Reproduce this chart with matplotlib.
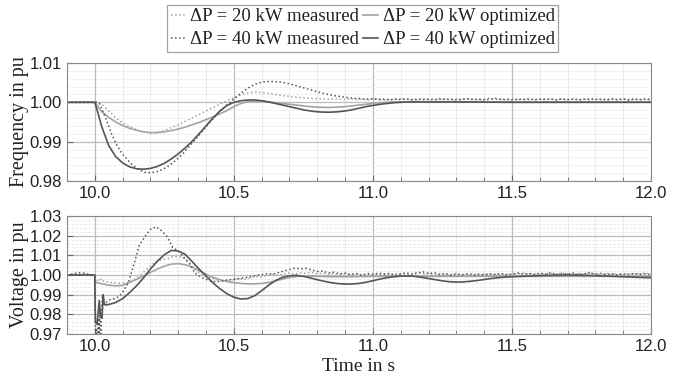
import numpy as np
import matplotlib
matplotlib.use("Agg")
import matplotlib.pyplot as plt
from matplotlib.ticker import MultipleLocator, FormatStrFormatter

# ---------------- data ----------------
# optimized frequency curves: smooth grid
t_fo = [9.90, 10.00, 10.01] + list(np.round(np.arange(10.025, 11.2001, 0.025), 3)) + [11.3, 11.5, 11.75, 12.0]
f40_opt = [1.0000, 1.0000, 0.9976,
           0.9938, 0.9890, 0.9862, 0.9846, 0.9836, 0.9831, 0.9830, 0.9832,
           0.9837, 0.9845, 0.9856, 0.9869, 0.9884, 0.9901, 0.9920, 0.9940, 0.9960, 0.9978,
           0.9992, 1.0000, 1.0004, 1.0006, 1.0006, 1.0004, 1.0001, 0.9997, 0.9993, 0.9989,
           0.9985, 0.9981, 0.9978, 0.9976, 0.9975, 0.9975, 0.9976, 0.9978, 0.9981, 0.9985,
           0.9989, 0.9992, 0.9995, 0.9997, 0.9999, 1.0000, 1.0001, 1.0001, 1.0001, 1.0001,
           1.0001, 1.0000, 1.0000, 1.0000]
f20_opt = [1.0000, 1.0000, 0.9990,
           0.9976, 0.9962, 0.9950, 0.9941, 0.9934, 0.9929, 0.9925, 0.9923,
           0.9923, 0.9925, 0.9928, 0.9932, 0.9937, 0.9943, 0.9949, 0.9956, 0.9963, 0.9971,
           0.9979, 0.9989, 0.9997, 1.0002, 1.0003, 1.0003, 1.0001, 0.9999, 0.9997, 0.9995,
           0.9993, 0.9991, 0.9989, 0.9988, 0.9987, 0.9987, 0.9988, 0.9989, 0.9991, 0.9993,
           0.9995, 0.9997, 0.9999, 1.0000, 1.0001, 1.0001, 1.0001, 1.0001, 1.0001, 1.0001,
           1.0001, 1.0001, 1.0001, 1.0001]

# measured curves: common tail grid 10.10 ... 12.00 every 0.02 s
t_tail = list(np.round(np.arange(10.10, 12.0001, 0.02), 3))
t_fm = [9.90, 9.95, 10.00, 10.005, 10.01, 10.015, 10.02, 10.03, 10.04, 10.05, 10.06, 10.08] + t_tail
f40_meas = [1.0000, 1.0001, 1.0000, 1.0000, 1.0000, 0.9998, 0.9993, 0.9975, 0.9958, 0.9940, 0.9920, 0.9890,
            0.9868, 0.9852, 0.9838, 0.9828, 0.9822, 0.9821, 0.9823, 0.9828, 0.9836, 0.9846,
            0.9858, 0.9872, 0.9888, 0.9904, 0.9921, 0.9938, 0.9954, 0.9970, 0.9984, 0.9996,
            1.0008, 1.0020, 1.0031, 1.0040, 1.0047, 1.0051, 1.0053, 1.0053, 1.0052, 1.0050,
            1.0047, 1.0043, 1.0039, 1.0035, 1.0031, 1.0027, 1.0023, 1.0020, 1.0017, 1.0015,
            1.0013, 1.0011, 1.0010, 1.0009, 1.0008, 1.0009, 1.0007, 1.0008, 1.0006, 1.0008,
            1.0007, 1.0009, 1.0006, 1.0008, 1.0007, 1.0008, 1.0006, 1.0009, 1.0007, 1.0008,
            1.0006, 1.0008, 1.0009, 1.0007, 1.0008, 1.0006, 1.0008, 1.0010, 1.0007, 1.0008,
            1.0006, 1.0008, 1.0007, 1.0009, 1.0006, 1.0008, 1.0007, 1.0008, 1.0006, 1.0009,
            1.0007, 1.0008, 1.0006, 1.0008, 1.0009, 1.0007, 1.0008, 1.0006, 1.0008, 1.0007,
            1.0009, 1.0006, 1.0008, 1.0007, 1.0008, 1.0007]
f20_meas = [1.0000, 1.0000, 1.0000, 1.0000, 1.0001, 1.0000, 0.9998, 0.9992, 0.9985, 0.9978, 0.9971, 0.9958,
            0.9948, 0.9940, 0.9934, 0.9928, 0.9924, 0.9922, 0.9923, 0.9926, 0.9931, 0.9937,
            0.9943, 0.9950, 0.9957, 0.9964, 0.9971, 0.9978, 0.9985, 0.9992, 0.9999, 1.0006,
            1.0012, 1.0018, 1.0022, 1.0025, 1.0026, 1.0025, 1.0023, 1.0021, 1.0019, 1.0017,
            1.0015, 1.0013, 1.0012, 1.0011, 1.0010, 1.0009, 1.0009, 1.0008, 1.0009, 1.0008,
            1.0007, 1.0009, 1.0007, 1.0008, 1.0006, 1.0009, 1.0008, 1.0006, 1.0008, 1.0007,
            1.0009, 1.0007, 1.0008, 1.0006, 1.0009, 1.0007, 1.0008, 1.0007, 1.0009, 1.0006,
            1.0008, 1.0007, 1.0009, 1.0008, 1.0006, 1.0008, 1.0010, 1.0007, 1.0008, 1.0006,
            1.0009, 1.0007, 1.0008, 1.0006, 1.0009, 1.0007, 1.0008, 1.0009, 1.0007, 1.0008,
            1.0006, 1.0009, 1.0007, 1.0008, 1.0006, 1.0009, 1.0007, 1.0008, 1.0009, 1.0006,
            1.0008, 1.0007, 1.0009, 1.0006, 1.0008, 1.0007]

# optimized voltage curves
t_vo = ([9.90, 10.000, 10.002, 10.008, 10.016, 10.020, 10.026, 10.030, 10.034, 10.040]
        + list(np.round(np.arange(10.05, 11.5001, 0.025), 3))
        + [11.55, 11.60, 11.65, 11.70, 11.75, 11.80, 11.85, 11.90, 11.95, 12.00])
v40_opt = [1.0000, 1.0000, 0.9760, 0.9750, 0.9870, 0.9800, 0.9780, 0.9900, 0.9850, 0.9848,
           0.9850, 0.9860, 0.9880, 0.9910, 0.9945, 0.9985, 1.0030, 1.0070, 1.0103, 1.0125,
           1.0122, 1.0105, 1.0068, 1.0030, 0.9995, 0.9960, 0.9930, 0.9905, 0.9887, 0.9878,
           0.9880, 0.9895, 0.9920, 0.9948, 0.9972, 0.9988, 0.9996, 0.9998, 0.9993, 0.9985,
           0.9976, 0.9968, 0.9961, 0.9956, 0.9954, 0.9954, 0.9957, 0.9963, 0.9971, 0.9979,
           0.9986, 0.9991, 0.9994, 0.9995, 0.9993, 0.9988, 0.9982, 0.9976, 0.9970, 0.9966,
           0.9964, 0.9965, 0.9968, 0.9972, 0.9977, 0.9982, 0.9986, 0.9989, 0.9991,
           0.9994, 0.9997, 0.9999, 1.0000, 0.9999, 0.9997, 0.9994, 0.9991, 0.9988, 0.9986]
v20_opt = [1.0000, 1.0000, 0.9962, 0.9960, 0.9958, 0.9957, 0.9955, 0.9954, 0.9953, 0.9951,
           0.9948, 0.9945, 0.9947, 0.9962, 0.9978, 0.9995, 1.0013, 1.0030, 1.0045, 1.0055,
           1.0058, 1.0052, 1.0040, 1.0022, 1.0004, 0.9988, 0.9976, 0.9967, 0.9961, 0.9957,
           0.9955, 0.9955, 0.9957, 0.9962, 0.9970, 0.9979, 0.9987, 0.9992, 0.9994, 0.9994,
           0.9993, 0.9992, 0.9991, 0.9991, 0.9991, 0.9991, 0.9992, 0.9992, 0.9993, 0.9993,
           0.9994, 0.9994, 0.9994, 0.9994, 0.9994, 0.9994, 0.9993, 0.9993, 0.9993, 0.9993,
           0.9993, 0.9993, 0.9993, 0.9993, 0.9993, 0.9993, 0.9993, 0.9993, 0.9993,
           0.9993, 0.9993, 0.9993, 0.9993, 0.9993, 0.9993, 0.9993, 0.9993, 0.9993, 0.9993]

# measured voltage curves
t_vm = [9.90, 9.92, 9.94, 9.96, 9.98, 10.000, 10.003, 10.006, 10.009, 10.012, 10.015, 10.018,
        10.021, 10.024, 10.027, 10.030, 10.035, 10.040, 10.050, 10.060, 10.070, 10.080, 10.090] + t_tail
v40_meas = [1.0000, 1.0005, 1.0012, 1.0010, 1.0002, 0.9990, 0.9650, 0.9720, 0.9650, 0.9780, 0.9700, 0.9820,
            0.9650, 0.9800, 0.9900, 0.9890, 0.9850, 0.9860, 0.9872, 0.9876, 0.9880, 0.9885, 0.9895,
            0.9912, 0.9960, 1.0050, 1.0150, 1.0195, 1.0232, 1.0245, 1.0225, 1.0195, 1.0140,
            1.0122, 1.0090, 1.0060, 1.0010, 0.9990, 0.9978, 0.9968, 0.9966, 0.9970, 0.9976,
            0.9978, 0.9982, 0.9986, 0.9992, 0.9998, 1.0002, 1.0006, 1.0004, 1.0012, 1.0020,
            1.0028, 1.0035, 1.0030, 1.0034, 1.0026, 1.0018, 1.0020, 1.0010, 1.0014, 1.0006,
            1.0010, 1.0002, 1.0008, 0.9998, 1.0006, 1.0002, 1.0010, 1.0004, 1.0008, 0.9998,
            1.0006, 1.0012, 1.0002, 1.0010, 1.0016, 1.0006, 1.0012, 1.0002, 1.0008, 0.9998,
            1.0004, 1.0000, 1.0006, 0.9998, 1.0004, 1.0000, 1.0006, 1.0002, 1.0008, 1.0000,
            1.0004, 1.0010, 1.0004, 1.0008, 1.0002, 1.0010, 1.0004, 1.0012, 1.0002, 1.0008,
            1.0004, 1.0010, 1.0002, 1.0006, 1.0012, 1.0004, 1.0008, 1.0002, 1.0006, 1.0000,
            1.0006, 1.0002, 1.0008, 1.0004, 1.0006, 1.0002]
v20_meas = [1.0000, 1.0002, 1.0000, 1.0003, 1.0001, 0.9995, 0.9972, 0.9968, 0.9975, 0.9978, 0.9970, 0.9975,
            0.9980, 0.9972, 0.9976, 0.9970, 0.9968, 0.9966, 0.9964, 0.9962, 0.9960, 0.9960, 0.9958,
            0.9958, 0.9962, 0.9975, 0.9995, 1.0020, 1.0045, 1.0068, 1.0078, 1.0082, 1.0092,
            1.0094, 1.0085, 1.0058, 1.0030, 1.0005, 0.9992, 0.9985, 0.9975, 0.9970, 0.9972,
            0.9976, 0.9980, 0.9978, 0.9986, 0.9992, 0.9990, 0.9998, 1.0002, 0.9998, 1.0006,
            1.0010, 1.0004, 1.0012, 1.0008, 1.0014, 1.0006, 1.0010, 1.0004, 1.0008, 1.0002,
            1.0006, 1.0000, 1.0006, 1.0002, 1.0008, 1.0004, 1.0000, 1.0006, 1.0002, 1.0008,
            1.0004, 1.0000, 1.0008, 1.0014, 1.0006, 1.0010, 1.0002, 1.0006, 1.0000, 1.0004,
            1.0008, 1.0002, 1.0004, 1.0008, 1.0000, 1.0006, 1.0002, 1.0004, 1.0000, 1.0006,
            1.0002, 1.0006, 1.0010, 1.0004, 1.0008, 1.0002, 1.0006, 1.0008, 1.0004, 1.0010,
            1.0006, 1.0002, 1.0008, 1.0004, 1.0010, 1.0006, 1.0002, 1.0008, 1.0004, 1.0006,
            1.0002, 1.0008, 1.0004, 1.0006, 1.0010, 1.0004]

labels = ["\u0394P = 20 kW measured", "\u0394P = 20 kW optimized",
          "\u0394P = 40 kW measured", "\u0394P = 40 kW optimized"]

# ---------------- figure ----------------
SERIF = "Liberation Serif"
SANS = "Liberation Sans"
DARK = "#555555"
LIGHT = "#a3a3a3"

fig = plt.figure(figsize=(6.83, 3.85), dpi=100)
ax1 = fig.add_axes([0.0981, 0.5299, 0.855, 0.3065])
ax2 = fig.add_axes([0.0981, 0.1325, 0.855, 0.3065])


def style(ax, ylo, yhi):
    ax.set_xlim(9.9, 12.0)
    ax.set_ylim(ylo, yhi)
    ax.xaxis.set_major_locator(MultipleLocator(0.5))
    ax.xaxis.set_minor_locator(MultipleLocator(0.1))
    ax.yaxis.set_major_locator(MultipleLocator(0.01))
    ax.yaxis.set_minor_locator(MultipleLocator(0.002))
    ax.xaxis.set_major_formatter(FormatStrFormatter("%.1f"))
    ax.yaxis.set_major_formatter(FormatStrFormatter("%.2f"))
    ax.xaxis.grid(True, which="major", color="#bcbcbc", lw=0.9)
    ax.yaxis.grid(True, which="major", color="#bcbcbc", lw=0.9)
    ax.xaxis.grid(True, which="minor", color="#e8e8e8", lw=0.6)
    ax.yaxis.grid(True, which="minor", color="#e4e4e4", lw=0.6, ls=(0, (3, 2)))
    ax.set_axisbelow(True)
    ax.tick_params(which="both", direction="in", colors="#666666", labelcolor="#222222",
                   labelsize=12, top=False, right=False)
    ax.tick_params(which="major", length=4)
    ax.tick_params(which="minor", length=3)
    ax.tick_params(axis="y", which="minor", length=0)
    for sp in ax.spines.values():
        sp.set_color("#8a8a8a")
        sp.set_linewidth(0.8)


style(ax1, 0.98, 1.01)
style(ax2, 0.97, 1.03)

h1, = ax1.plot(t_fm, f20_meas, ls=":", color=LIGHT, lw=1.1)
h2, = ax1.plot(t_fo, f20_opt, ls="-", color=LIGHT, lw=1.2)
h3, = ax1.plot(t_fm, f40_meas, ls=":", color=DARK, lw=1.1)
h4, = ax1.plot(t_fo, f40_opt, ls="-", color=DARK, lw=1.2)

ax2.plot(t_vm, v20_meas, ls=":", color=LIGHT, lw=1.1)
ax2.plot(t_vo, v20_opt, ls="-", color=LIGHT, lw=1.2)
ax2.plot(t_vm, v40_meas, ls=":", color=DARK, lw=1.1)
ax2.plot(t_vo, v40_opt, ls="-", color=DARK, lw=1.2)

for ax in (ax1, ax2):
    for lab in ax.get_xticklabels() + ax.get_yticklabels():
        lab.set_fontfamily(SANS)

ax1.set_ylabel("Frequency in pu", fontfamily=SERIF, fontsize=14.5, labelpad=0.5, color="#222222")
ax2.set_ylabel("Voltage in pu", fontfamily=SERIF, fontsize=14.5, labelpad=0.5, color="#222222")
ax2.set_xlabel("Time in s", fontfamily=SERIF, fontsize=14, labelpad=3, color="#222222")

leg = fig.legend([h1, h3, h2, h4], [labels[0], labels[2], labels[1], labels[3]],
                 loc="upper center", bbox_to_anchor=(0.531, 0.993), ncol=2,
                 prop={"family": SERIF, "size": 13.5}, frameon=True, fancybox=False,
                 edgecolor="#8a8a8a", handlelength=0.8, handletextpad=0.25,
                 columnspacing=0.2, borderpad=0.2, labelspacing=0.3, borderaxespad=0.1)
leg.get_frame().set_linewidth(0.9)
for txt in leg.get_texts():
    txt.set_color("#222222")

fig.savefig("out.png", dpi=100)
